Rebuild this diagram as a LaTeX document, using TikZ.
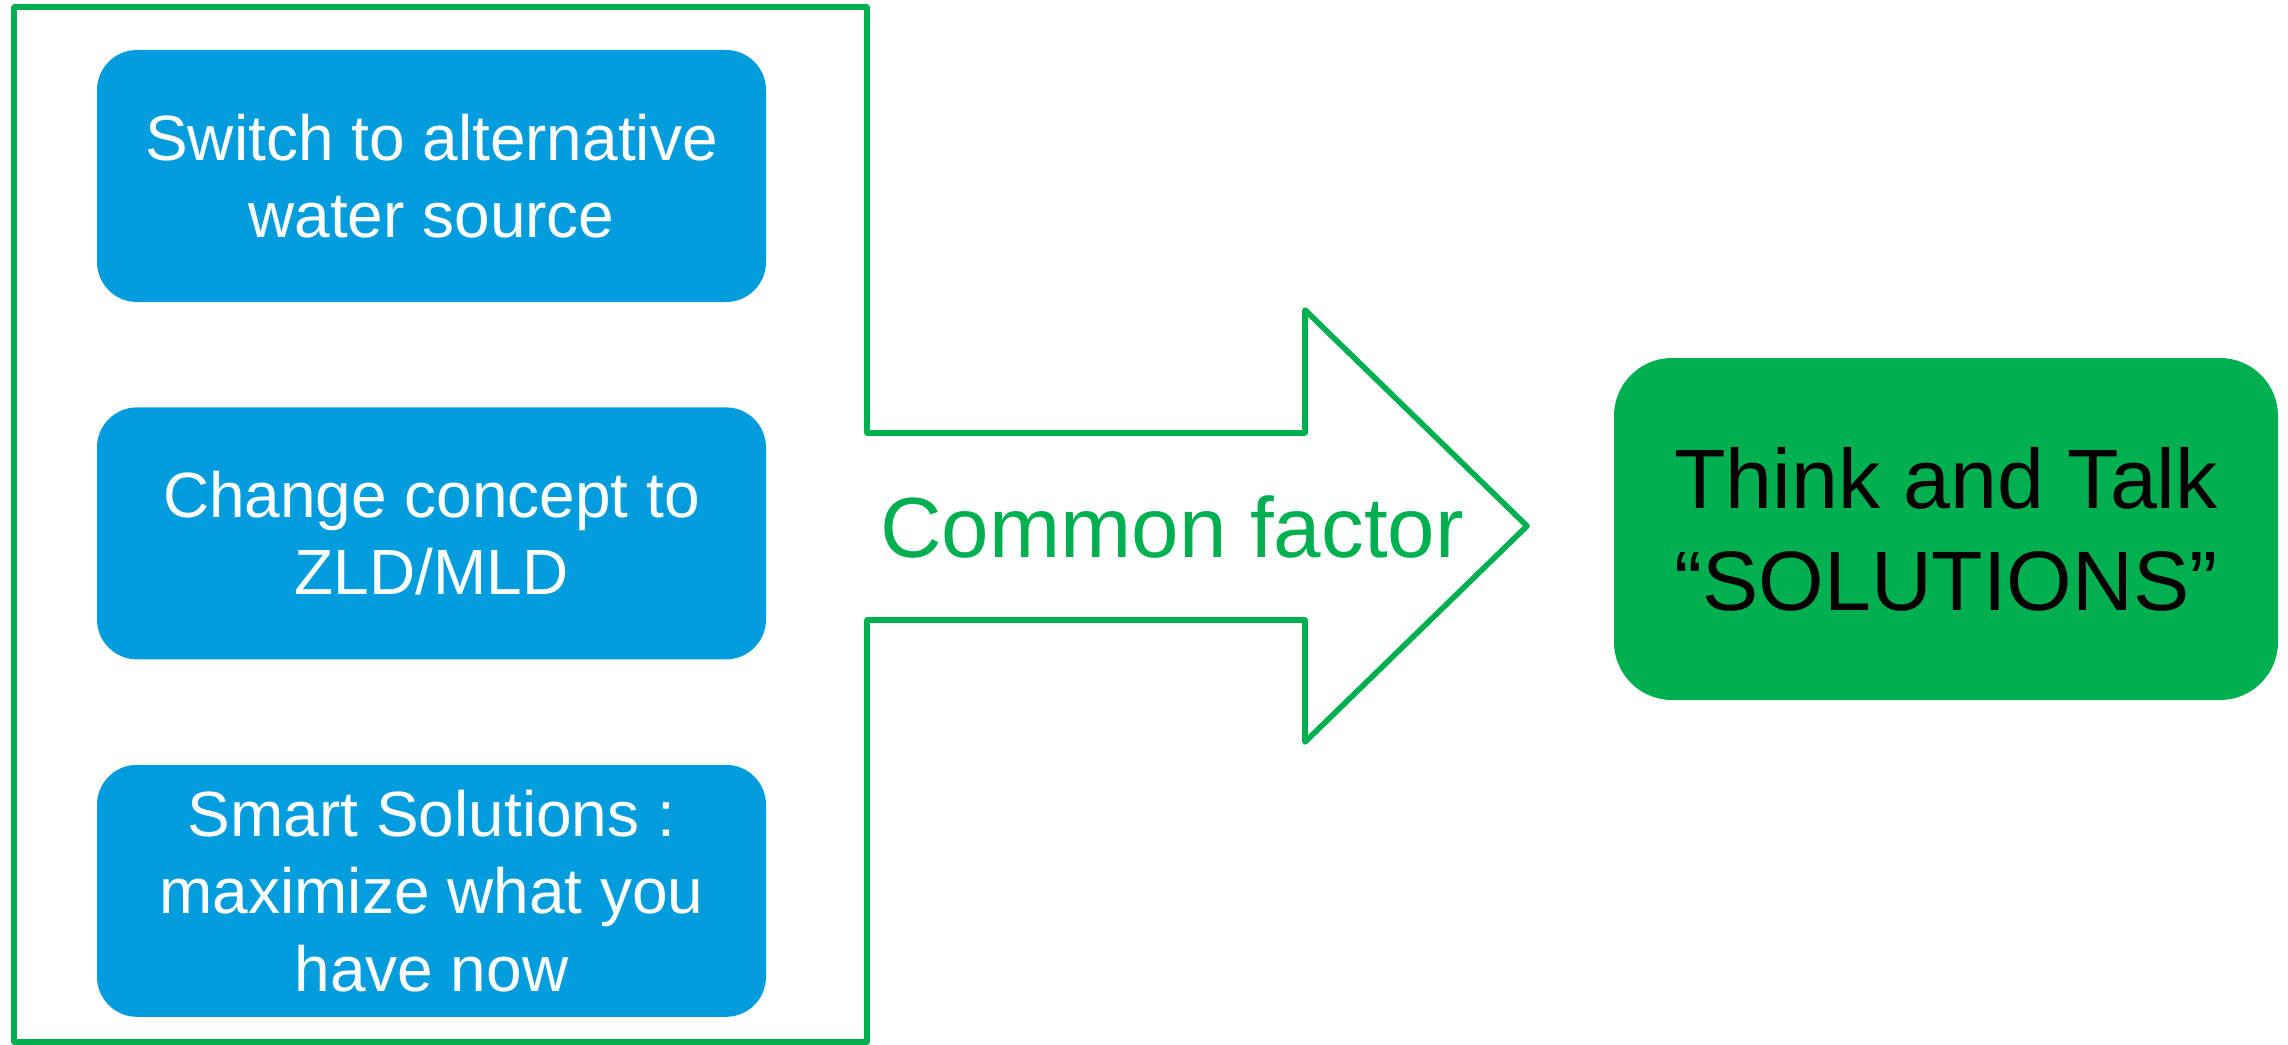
\documentclass[tikz,border=0pt]{standalone}
\usepackage{fontspec}
\setmainfont{Liberation Sans}
\usepackage{tikz}
\usetikzlibrary{positioning}

\definecolor{boxblue}{HTML}{039DDE}
\definecolor{factorgreen}{HTML}{00B050}

\begin{document}
\begin{tikzpicture}[
    option/.style={rectangle, rounded corners=0.4cm, fill=boxblue, text=white,
        minimum width=6.69cm, minimum height=2.52cm, inner sep=0pt, align=center,
        font=\fontsize{18.2}{22}\selectfont},
    result/.style={rectangle, rounded corners=0.58cm, fill=factorgreen, text=black,
        minimum width=6.64cm, minimum height=3.42cm, inner sep=0pt, align=center,
        font=\fontsize{24}{29}\selectfont},
    outline/.style={draw=factorgreen, line width=1.6pt, line join=round}
]
\useasboundingbox (0,0) rectangle (22.88,-10.45);

% Frame running into the big arrow
\draw[outline] (0.14,-0.07) -- (8.67,-0.07) -- (8.67,-4.33) -- (13.05,-4.33)
    -- (13.05,-3.10) -- (15.27,-5.26) -- (13.05,-7.42) -- (13.05,-6.20)
    -- (8.67,-6.20) -- (8.67,-10.42) -- (0.14,-10.42) -- cycle;

% Define options
\node[option] (alt) at (4.315,-1.76) {Switch to alternative\\water source};
\node[option, below=1.04cm of alt] (zld) {Change concept to\\ZLD/MLD};
\node[option, below=1.04cm of zld] (smart) {Smart Solutions :\\maximize what you\\have now};

% Arrow label and result
\node[text=factorgreen, font=\fontsize{24.3}{29}\selectfont] (factor) at (11.72,-5.27) {Common factor};
\node[result] (talk) at (19.46,-5.29) {Think and Talk\\“SOLUTIONS”};

\end{tikzpicture}
\end{document}
